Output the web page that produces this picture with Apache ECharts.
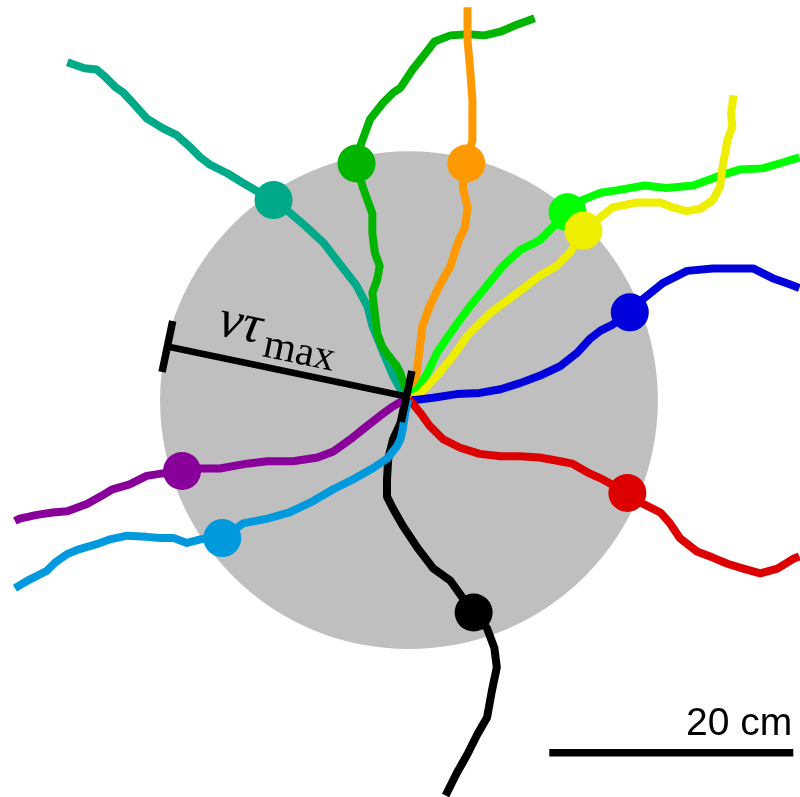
<!DOCTYPE html>
<html>
<head>
<meta charset="utf-8">
<script src="https://cdn.jsdelivr.net/npm/echarts@6/dist/echarts.min.js"></script>
<style>
  html, body { margin: 0; padding: 0; background: #ffffff; }
  #chart { width: 800px; height: 797px; }
</style>
</head>
<body>
<div id="chart"></div>
<script>
// All positions in cm, origin at the common release point.

// Ten tracked paths (release point outward)
const tealPath = [[0,0],[-0.7,0.8],[-1.3,1.9],[-2.1,3.8],[-3.0,6.0],[-3.4,7.6],[-4.3,9.3],[-5.7,11.1],[-7.0,12.8],[-8.4,14.1],[-9.8,15.3],[-11.1,16.3],[-12.4,17.0],[-13.6,17.7],[-14.9,18.5],[-16.3,19.2],[-17.1,19.8],[-18.0,20.7],[-19.0,21.6],[-20.2,22.2],[-21.5,23.0],[-22.3,23.9],[-23.4,25.1],[-24.1,25.6],[-24.8,26.3],[-25.6,27.0],[-26.6,27.1],[-28.0,27.6]];
const greenPath = [[-0.1,0.2],[-0.2,0.6],[-0.7,2.1],[-1.0,2.7],[-1.8,3.7],[-2.2,4.3],[-2.6,5.4],[-2.8,7.0],[-3.0,8.7],[-2.6,9.8],[-2.4,10.9],[-2.8,12.0],[-3.0,13.6],[-3.0,15.2],[-3.4,16.3],[-3.8,17.4],[-4.3,19.3],[-4.0,20.7],[-3.2,22.9],[-2.1,24.3],[-1.3,25.1],[-0.7,25.5],[0.3,27.0],[1.1,28.0],[2.1,29.3],[3.4,29.8],[4.8,29.9],[6.2,29.8],[7.5,30.1],[8.9,30.7],[10.3,31.2]];
const orangePath = [[0.2,0.2],[0.3,0.4],[0.5,1.1],[0.7,2.7],[0.9,4.3],[1.1,6.0],[1.7,7.6],[2.5,9.3],[3.4,10.9],[4.0,12.8],[4.6,14.1],[4.8,15.7],[4.4,17.4],[4.7,19.3],[5.2,21.2],[5.2,22.9],[5.2,24.5],[5.0,27.2],[4.8,29.4],[4.8,32.1]];
const limePath = [[0.1,0.1],[0.2,0.4],[0.7,0.8],[1.5,2.1],[2.3,3.8],[3.6,5.7],[5.0,7.6],[6.4,9.3],[7.7,10.9],[9.1,12.2],[10.7,13.0],[11.8,14.1],[13.0,15.3],[14.2,16.3],[15.7,16.9],[17.0,17.1],[19.3,17.5],[21.1,17.3],[23.3,17.5],[25.2,18.2],[27.1,18.8],[29.0,18.9],[30.7,19.4],[32.0,19.8]];
const yellowPath = [[0.1,0.0],[0.2,0.0],[0.9,0.4],[2.3,1.9],[3.6,3.5],[4.8,5.2],[6.6,7.0],[8.9,8.7],[10.7,10.1],[12.1,10.9],[13.2,12.0],[14.3,13.8],[15.7,14.9],[16.7,15.7],[18.7,16.1],[20.6,16.1],[21.6,15.7],[22.8,15.4],[23.9,15.6],[24.9,16.3],[25.5,17.4],[25.7,19.0],[26.1,21.2],[26.5,22.3],[26.4,23.4],[26.6,24.9]];
const bluePath = [[0.1,0.0],[0.3,-0.1],[2.0,0.1],[3.9,0.4],[5.8,0.5],[7.5,0.8],[9.1,1.3],[10.7,1.9],[12.4,2.7],[13.8,3.8],[14.8,4.9],[15.7,5.6],[16.7,6.1],[18.1,7.1],[19.2,8.2],[20.8,9.5],[22.8,10.5],[24.9,10.7],[26.6,10.7],[28.2,10.7],[29.8,9.9],[31.2,9.4],[32.0,9.1]];
const redPath = [[0.0,0.0],[0.1,0.0],[0.9,-1.1],[1.7,-2.2],[2.8,-3.3],[4.2,-4.0],[5.8,-4.5],[7.5,-4.7],[9.1,-4.7],[10.7,-4.8],[12.4,-5.1],[13.4,-5.3],[14.8,-6.1],[15.7,-6.5],[17.9,-7.7],[19.2,-8.6],[20.6,-9.3],[21.4,-10.2],[22.2,-11.4],[23.6,-12.5],[24.9,-13.0],[26.1,-13.5],[27.4,-13.9],[28.8,-14.3],[30.2,-13.9],[31.5,-13.1],[32.0,-12.9]];
const blackPath = [[-0.1,0.0],[-0.3,-0.2],[-0.7,-2.0],[-1.3,-3.3],[-1.7,-4.9],[-1.8,-6.6],[-1.8,-8.0],[-1.3,-9.0],[-0.5,-10.4],[0.7,-12.2],[2.0,-13.9],[3.4,-14.9],[4.4,-16.3],[5.3,-17.5],[6.4,-18.8],[7.0,-20.4],[7.2,-22.0],[6.8,-23.9],[6.4,-26.1],[5.6,-27.5],[4.8,-29.1],[3.9,-30.7],[3.0,-32.5]];
const purplePath = [[0.0,0.0],[-0.3,0.0],[-1.3,-0.6],[-2.4,-1.4],[-3.8,-2.5],[-4.8,-3.3],[-6.2,-4.3],[-7.5,-4.8],[-9.5,-5.1],[-11.6,-5.1],[-13.3,-5.3],[-15.5,-5.7],[-17.1,-5.7],[-18.6,-5.9],[-20.2,-6.1],[-21.5,-6.3],[-22.9,-7.0],[-24.3,-7.4],[-25.3,-8.0],[-26.4,-8.6],[-28.0,-9.2],[-29.2,-9.3],[-30.5,-9.5],[-31.9,-9.8],[-32.3,-10.0]];
const skyPath = [[0.0,0.0],[-0.1,-0.2],[-0.3,-1.1],[-0.5,-2.4],[-0.7,-3.3],[-1.0,-3.9],[-1.8,-4.9],[-3.0,-5.7],[-4.6,-6.6],[-6.2,-7.4],[-8.1,-8.5],[-9.8,-9.3],[-11.6,-9.8],[-13.6,-10.2],[-15.3,-11.4],[-17.1,-11.5],[-18.2,-11.8],[-19.3,-11.4],[-20.4,-11.4],[-21.5,-11.3],[-23.1,-11.2],[-24.5,-11.5],[-25.6,-11.9],[-27.0,-12.3],[-28.0,-12.7],[-29.0,-13.4],[-29.7,-14.1],[-31.1,-14.8],[-32.3,-15.5]];

// Position of each path at t = tau_max
const tealExit = [-11.1, 16.3];
const greenExit = [-4.3, 19.3];
const orangeExit = [4.7, 19.3];
const limeExit = [13.0, 15.3];
const yellowExit = [14.3, 13.8];
const blueExit = [18.1, 7.1];
const redExit = [17.9, -7.7];
const blackExit = [5.3, -17.5];
const purpleExit = [-18.6, -5.9];
const skyExit = [-15.3, -11.4];

const pathColors = ['#00AA88', '#00B400', '#FF9900', '#00FF00', '#EEEE00', '#0000DD', '#DD0000', '#000000', '#880099', '#0099DD'];
const paths = [tealPath, greenPath, orangePath, limePath, yellowPath, bluePath, redPath, blackPath, purplePath, skyPath];
const exits = [tealExit, greenExit, orangeExit, limeExit, yellowExit, blueExit, redExit, blackExit, purpleExit, skyExit];

// Reach disc: centre and radius v*tau_max
const reachDisc = [0.0, -0.1, 20.4];

// Radius marker from the release point out to the disc edge
const radiusMarkerInner = [-0.2, 0.2];
const radiusMarkerOuter = [-19.8, 4.3];

// Scale bar
const scaleBarStart = [11.5, -29.0];
const scaleBarEnd = [31.5, -29.0];
const scaleBarLabel = '20 cm';

const chart = echarts.init(document.getElementById('chart'), null, { renderer: 'canvas' });

const series = [];

series.push({
  type: 'custom',
  coordinateSystem: 'cartesian2d',
  silent: true,
  z: 1,
  data: [reachDisc],
  renderItem: function (params, api) {
    const c = api.coord([api.value(0), api.value(1)]);
    const r = api.size([api.value(2), 0])[0];
    return { type: 'circle', shape: { cx: c[0], cy: c[1], r: r }, style: { fill: '#BFBFBF' } };
  }
});

paths.forEach(function (p, i) {
  series.push({
    type: 'line',
    data: p,
    showSymbol: false,
    symbol: 'none',
    silent: true,
    z: 2,
    lineStyle: { color: pathColors[i], width: 8, cap: 'butt', join: 'round' }
  });
});

series.push({
  type: 'scatter',
  silent: true,
  z: 3,
  symbol: 'circle',
  symbolSize: 38,
  data: exits.map(function (p, i) { return { value: p, itemStyle: { color: pathColors[i], opacity: 1 } }; })
});

series.push({
  type: 'custom',
  coordinateSystem: 'cartesian2d',
  silent: true,
  z: 4,
  data: [[radiusMarkerInner[0], radiusMarkerInner[1], radiusMarkerOuter[0], radiusMarkerOuter[1]]],
  renderItem: function (params, api) {
    const a = api.coord([api.value(0), api.value(1)]);
    const b = api.coord([api.value(2), api.value(3)]);
    const dx = a[0] - b[0], dy = a[1] - b[1];
    const L = Math.hypot(dx, dy);
    const ux = dx / L, uy = dy / L;
    const nx = -uy, ny = ux;
    const h = 26;
    const mid = [(a[0] + b[0]) / 2, (a[1] + b[1]) / 2];
    const rot = Math.atan2(-dy, dx);
    return {
      type: 'group',
      children: [
        { type: 'line', shape: { x1: b[0], y1: b[1], x2: a[0], y2: a[1] }, style: { stroke: '#000', lineWidth: 6.5 } },
        { type: 'line', shape: { x1: a[0] + nx * h, y1: a[1] + ny * h, x2: a[0] - nx * h, y2: a[1] - ny * h }, style: { stroke: '#000', lineWidth: 7.5 } },
        { type: 'line', shape: { x1: b[0] + nx * h, y1: b[1] + ny * h, x2: b[0] - nx * h, y2: b[1] - ny * h }, style: { stroke: '#000', lineWidth: 7.5 } },
        {
          type: 'group', x: mid[0], y: mid[1], rotation: rot,
          children: [
            { type: 'text', x: -77, y: -36, style: { text: 'vτ', fontFamily: 'Liberation Serif', fontStyle: 'italic', fontSize: 54, fill: '#000', align: 'left', verticalAlign: 'middle' } },
            { type: 'text', x: -28, y: -21, style: { text: 'max', fontFamily: 'Liberation Serif', fontSize: 42, fill: '#000', align: 'left', verticalAlign: 'middle' } }
          ]
        }
      ]
    };
  }
});

series.push({
  type: 'custom',
  coordinateSystem: 'cartesian2d',
  silent: true,
  z: 4,
  data: [[scaleBarStart[0], scaleBarStart[1], scaleBarEnd[0], scaleBarEnd[1]]],
  renderItem: function (params, api) {
    const a = api.coord([api.value(0), api.value(1)]);
    const b = api.coord([api.value(2), api.value(3)]);
    return {
      type: 'group',
      children: [
        { type: 'line', shape: { x1: a[0], y1: a[1], x2: b[0], y2: b[1] }, style: { stroke: '#000', lineWidth: 7.5 } },
        { type: 'text', x: b[0] - 1, y: b[1] - 29, style: { text: scaleBarLabel, fontFamily: 'Liberation Sans', fontSize: 39, fill: '#000', align: 'right', verticalAlign: 'middle' } }
      ]
    };
  }
});

chart.setOption({
  animation: false,
  backgroundColor: '#ffffff',
  grid: { left: 0, right: 0, top: 0, bottom: 0, containLabel: false },
  xAxis: { type: 'value', min: -33.52, max: 32.05, show: false, splitLine: { show: false } },
  yAxis: { type: 'value', min: -32.62, max: 32.70, show: false, splitLine: { show: false } },
  series: series
});
</script>
</body>
</html>
